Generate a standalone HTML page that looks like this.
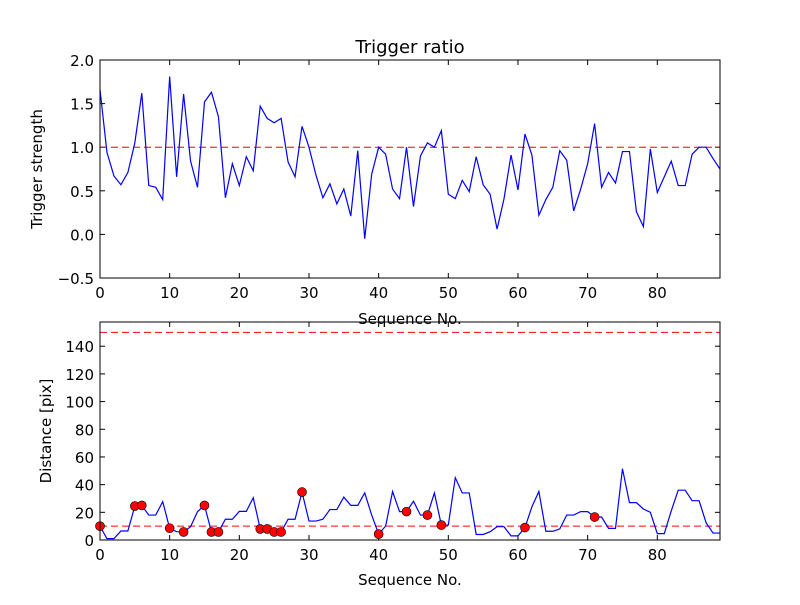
<!DOCTYPE html>
<html><head><meta charset="utf-8"><style>
body{margin:0;background:#fff;}
svg text{font-family:"DejaVu Sans","Liberation Sans",sans-serif;}
</style></head><body>
<svg id="chart" width="800" height="600" viewBox="0 0 800 600" xmlns="http://www.w3.org/2000/svg">
<rect width="800" height="600" fill="#fff"/>
</svg>
<script>
const ratioValues=[1.66,0.94,0.67,0.57,0.71,1.05,1.62,0.56,0.54,0.40,1.81,0.66,1.61,0.84,0.54,1.52,1.63,1.35,0.42,0.81,0.56,0.89,0.73,1.47,1.33,1.28,1.33,0.83,0.66,1.24,1.0,0.68,0.42,0.58,0.35,0.52,0.21,0.96,-0.05,0.69,1.0,0.92,0.52,0.41,1.0,0.32,0.90,1.05,1.0,1.19,0.46,0.41,0.62,0.49,0.89,0.57,0.46,0.06,0.41,0.91,0.51,1.15,0.91,0.22,0.40,0.54,0.96,0.85,0.27,0.52,0.81,1.27,0.54,0.71,0.59,0.95,0.95,0.26,0.09,0.98,0.48,0.66,0.84,0.56,0.56,0.92,1.0,1.0,0.87,0.75];
const distValues=[10,1,1,6.5,6.5,24.5,25,18,18,27.7,8.5,6,5.8,9.6,20.5,25,5.8,5.8,15,15,20.7,20.7,30.5,8,8,5.8,5.8,15,15,34.6,13.7,13.7,15,22,22,31,25,25,34,18,4.3,10,35,20.5,20.5,28,18,18,34,10.8,10.8,45,34,34,4,4,6,9.6,9.6,3,3,9,24,35,6.3,6.3,8,18,18,20.5,20.5,16.6,16.6,8.4,8.4,51.5,27,27,22.4,20,4.6,4.6,21,36,36,28.4,28.4,12.5,5,5];
const outlierIdx=[0,5,6,10,12,15,16,17,23,24,25,26,29,40,44,47,49,61,71];
const xTicks=[0,10,20,30,40,50,60,70,80];
const ratioTicks=[-0.5,0.0,0.5,1.0,1.5,2.0];
const distTicks=[0,20,40,60,80,100,120,140];
const ratioThreshold=[1.0];
const distThresholds=[10,150];

const NS="http://www.w3.org/2000/svg";
const svgEl=document.getElementById('chart');
function mk(tag,attrs,parent){const e=document.createElementNS(NS,tag);for(const k in attrs)e.setAttribute(k,attrs[k]);(parent||svgEl).appendChild(e);return e;}
const L=100,R=720;
const xMin=0,xMax=89;
const sx=v=>L+(v-xMin)/(xMax-xMin)*(R-L);

function panel(pTop,pBottom,yMin,yMax,yT,fmt,name){
  const sy=v=>pBottom-(v-yMin)/(yMax-yMin)*(pBottom-pTop);
  const g=mk('g',{});
  
  
  xTicks.forEach(t=>{
    const x=sx(t);
    mk('line',{x1:x,x2:x,y1:pBottom,y2:pBottom-5,stroke:'#000'},g);
    mk('line',{x1:x,x2:x,y1:pTop,y2:pTop+5,stroke:'#000'},g);
    const tx=mk('text',{x:x,y:pBottom+20,'text-anchor':'middle','font-size':15},g);
    
    
    tx.textContent=t;
  });
  yT.forEach(t=>{
    const y=sy(t);
    mk('line',{x1:L,x2:L+5,y1:y,y2:y,stroke:'#000'},g);
    mk('line',{x1:R,x2:R-5,y1:y,y2:y,stroke:'#000'},g);
    const tx=mk('text',{x:L-6,y:y+6,'text-anchor':'end','font-size':15},g);
    
    
    tx.textContent=fmt(t);
  });
  return {g,sy};
}

const topP=panel(60,278,-0.5,2.0,ratioTicks,t=>t<0?'\u22120.5':t.toFixed(1),'ratio-panel');
ratioThreshold.forEach(v=>{
  const l=mk('line',{x1:L,x2:R,y1:topP.sy(v),y2:topP.sy(v),stroke:'#f00','stroke-dasharray':'7,4','stroke-width':1},topP.g);
  
  
});
const p1=mk('polyline',{points:ratioValues.map((v,i)=>sx(i)+','+topP.sy(v)).join(' '),fill:'none',stroke:'#00f','stroke-width':1.2},topP.g);


mk('rect',{x:L,y:60,width:R-L,height:218,fill:'none',stroke:'#000','stroke-width':1},topP.g);

const botP=panel(322,540,0,157.5,distTicks,t=>String(t),'distance-panel');
distThresholds.forEach(v=>{
  const l=mk('line',{x1:L,x2:R,y1:botP.sy(v),y2:botP.sy(v),stroke:'#f00','stroke-dasharray':'7,4','stroke-width':1},botP.g);
  
  
});
const p2=mk('polyline',{points:distValues.map((v,i)=>sx(i)+','+botP.sy(v)).join(' '),fill:'none',stroke:'#00f','stroke-width':1.2},botP.g);


outlierIdx.forEach(i=>{
  const c=mk('circle',{cx:sx(i),cy:botP.sy(distValues[i]),r:4.5,fill:'#f00',stroke:'#000','stroke-width':0.6},botP.g);
  
  
});
mk('rect',{x:L,y:322,width:R-L,height:218,fill:'none',stroke:'#000','stroke-width':1},botP.g);

function label(txt,x,y,name,size,rot){
  const t=mk('text',{x:x,y:y,'text-anchor':'middle','font-size':size});
  if(rot)t.setAttribute('transform','rotate(-90 '+x+' '+y+')');
  
  
  t.textContent=txt;
}
label('Trigger ratio',410,53,'chart-title',18);
label('Sequence No.',410,324,'top-x-axis-title',15);
label('Sequence No.',410,585,'bottom-x-axis-title',15);
label('Trigger strength',42,169,'top-y-axis-title',15,true);
label('Distance [pix]',51,431,'bottom-y-axis-title',15,true);
</script>
</body></html>
